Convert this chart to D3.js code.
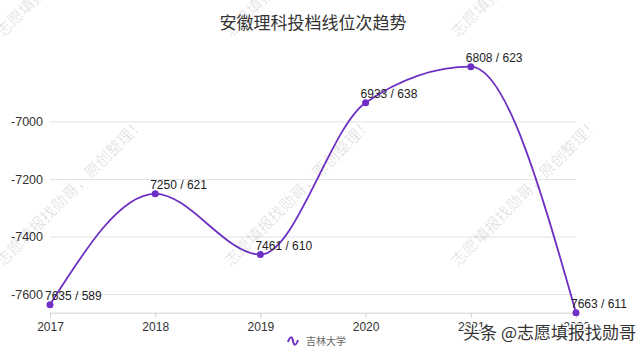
<!DOCTYPE html>
<html><head><meta charset="utf-8">
<script src="https://cdn.jsdelivr.net/npm/d3@7"></script>
<style>body{margin:0;background:#fff}svg{display:block}</style>
</head><body>
<svg id="c" width="640" height="352"></svg>
<script>
const years = ["2017","2018","2019","2020","2021","2022"];
const ranks = [7635, 7250, 7461, 6933, 6808, 7663];
const scores = [589, 621, 610, 638, 623, 611];
const yTicks = [-7600, -7400, -7200, -7000];
const seriesName = "吉林大学";
const title = "安徽理科投档线位次趋势";
const watermark = "志愿填报找勋哥，原创整理！";
const credit = "头条 @志愿填报找勋哥";

const svg = d3.select("#c");
const font = "'Liberation Sans', Arial, 'Noto Sans CJK SC', sans-serif";
const color = "#6e2fc4";
const vals = ranks.map(r => -r);

const x = d3.scalePoint().domain(years).range([50, 576]);
const y = d3.scaleLinear().domain([d3.min(vals), d3.max(vals)]).range([312.7, 66.7]);

// gridlines
svg.append("g").selectAll("line").data(yTicks).join("line")
  .attr("x1", 50).attr("x2", 576)
  .attr("y1", d => y(d)).attr("y2", d => y(d))
  .attr("stroke", "#e3e3e3").attr("stroke-width", 1);

// y labels
svg.append("g").selectAll("text").data(yTicks).join("text")
  .attr("x", 43).attr("y", d => y(d)).attr("dy", "0.35em")
  .attr("text-anchor", "end").attr("font-family", font).attr("font-size", 12.5)
  .attr("fill", "#333").text(d => d);

// x axis
const xa = svg.append("g").attr("transform", "translate(0,312.7)")
  .call(d3.axisBottom(x).tickSize(5).tickPadding(5));
xa.select(".domain").attr("stroke", "#d0d0d0");
xa.selectAll(".tick line").attr("stroke", "#d0d0d0");
xa.selectAll(".tick text").attr("font-family", font).attr("font-size", 12).attr("fill", "#333");

// line
const line = d3.line().x((d, i) => x(years[i])).y(d => y(d)).curve(d3.curveMonotoneX);
svg.append("path").datum(vals).attr("d", line)
  .attr("fill", "none").attr("stroke", color).attr("stroke-width", 1.8);

svg.append("g").selectAll("circle").data(vals).join("circle")
  .attr("cx", (d, i) => x(years[i])).attr("cy", d => y(d)).attr("r", 3.5).attr("fill", color);

svg.append("g").selectAll("text").data(vals).join("text")
  .attr("x", (d, i) => x(years[i]) - 5).attr("y", d => y(d) - 5)
  .attr("font-family", font).attr("font-size", 12).attr("fill", "#222")
  .text((d, i) => ranks[i] + " / " + scores[i]);

// title
svg.append("text").attr("x", 313).attr("y", 29).attr("text-anchor", "middle")
  .attr("font-family", "'Noto Sans CJK SC', sans-serif").attr("font-size", 17).attr("fill", "#333")
  .text(title);

// legend
const lg = svg.append("g").attr("transform", "translate(293,341)");
lg.append("path").attr("d", "M-5,1 C-3,-5 -1,-5 0,0 C1,5 3,5 5,-1")
  .attr("fill", "none").attr("stroke", color).attr("stroke-width", 2);
lg.append("text").attr("x", 13).attr("y", 0).attr("dy", "0.35em")
  .attr("font-family", "'Noto Sans CJK SC', sans-serif").attr("font-size", 10).attr("fill", "#666")
  .text(seriesName);

// watermarks
const wmX = [3, 231, 458];
const wmY = [38, 267, 496];
const wm = svg.append("g");
wmY.forEach(yy => wmX.forEach(xx => {
  wm.append("text").attr("transform", `translate(${xx},${yy}) rotate(-45)`)
    .attr("font-family", "'Noto Sans CJK SC', sans-serif").attr("font-size", 15.5)
    .attr("fill", "rgba(0,0,0,0.12)").text(watermark);
}));

// credit
svg.append("text").attr("x", 636).attr("y", 339).attr("text-anchor", "end")
  .attr("font-family", "'Noto Sans CJK SC', sans-serif").attr("font-size", 17)
  .attr("fill", "#333").attr("stroke", "#fff").attr("stroke-width", 2.5)
  .attr("paint-order", "stroke").text(credit);
</script>
</body></html>
